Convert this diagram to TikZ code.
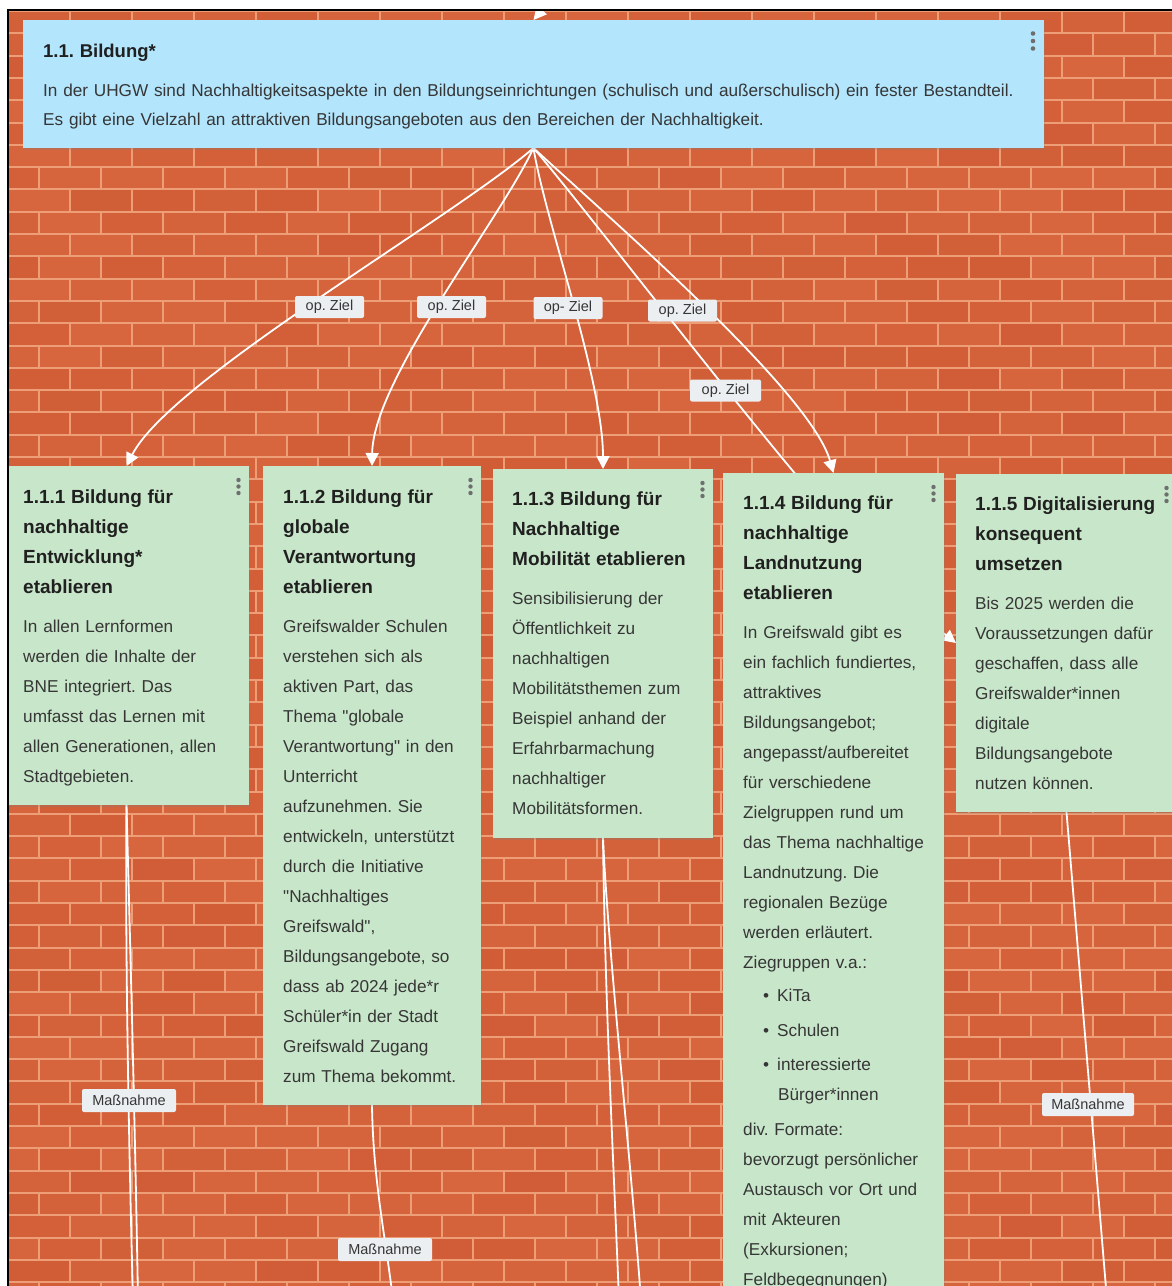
\documentclass[tikz,border=0pt]{standalone}
\usepackage{fontspec}
\setmainfont{Liberation Sans}
\usetikzlibrary{arrows.meta,shadows,calc}
\setlength{\parindent}{0pt}
\frenchspacing
\definecolor{brickA}{HTML}{DB6A42}
\definecolor{brickB}{HTML}{CA5630}
\definecolor{mortar}{HTML}{EE9E76}
\definecolor{topblue}{HTML}{B3E5FC}
\definecolor{cardgreen}{HTML}{C8E6C9}
\definecolor{labelgray}{HTML}{ECEFF1}
\definecolor{inktitle}{HTML}{202020}
\definecolor{inkbody}{HTML}{363636}
\definecolor{dotgray}{HTML}{6E6E6E}
\pgfdeclarelayer{bg}
\pgfdeclarelayer{wires}
\pgfsetlayers{bg,wires,main}
\newcommand\cardtitle[1]{{\fontsize{19}{30}\selectfont\bfseries\strut\color{inktitle}#1\par}\vspace{9pt}}
\newcommand\menudots[1]{\foreach \dy in {14,20.5,27}{\fill[dotgray] ($(#1.north east)+(-10.5,\dy)$) circle (2.2pt);}}
\newcommand\qq{\textquotedbl}
\tikzset{
  card/.style={fill=cardgreen, draw=none, anchor=north west, inner sep=0pt, outer sep=0pt,
    drop shadow={opacity=0.25, shadow xshift=0.8pt, shadow yshift=-1.6pt}},
  topcard/.style={card, fill=topblue},
  cardtext/.style={anchor=north west, inner sep=0pt, text width=#1, align=left, text=inkbody,
    font=\fontsize{17.2}{30}\selectfont},
  lbl/.style={fill=labelgray, rounded corners=2pt, inner sep=0pt, minimum height=22pt,
    text=inkbody, font=\fontsize{14.5}{16}\selectfont},
  wire/.style={draw=white, line width=1.8pt},
  tip/.style={-{Triangle[length=13pt,width=13pt]}}
}
\begin{document}
\begin{tikzpicture}[x=1pt,y=-1pt]
\useasboundingbox (0,0) rectangle (1172,1286);
% brick wall
\begin{pgfonlayer}{bg}
\fill[white] (0,0) rectangle (1172,1286);
\fill[mortar] (8,11) rectangle (1172,1286);
\pgfmathsetseed{42}
\foreach \r in {0,...,57}{
  \pgfmathsetmacro\yy{11+\r*22.3}
  \pgfmathsetmacro\off{mod(\r,2)*31}
  \foreach \c in {-1,...,19}{
    \pgfmathsetmacro\xx{\c*62+\off+8}
    \pgfmathsetmacro\sh{int(35+rnd*45)}
    \fill[brickA!\sh!brickB] (\xx+1,\yy+1) rectangle (\xx+61,\yy+21.3);
  }
}
\end{pgfonlayer}

% top card
\node[topcard, minimum width=1021pt, minimum height=128pt] (top) at (23,20) {};
\node[anchor=north west, inner sep=0pt, text width=1015pt, align=left, text=inkbody,
  font=\fontsize{17.2}{29}\selectfont] (toptext) at ($(top.north west)+(20,16.5)$)
  {{\fontsize{18.5}{29}\selectfont\bfseries\strut\color{inktitle}1.1. Bildung*\par}\vspace{10pt}
   In der UHGW sind Nachhaltigkeitsaspekte in den Bildungseinrichtungen (schulisch und außerschulisch) ein fester Bestandteil.\\
   Es gibt eine Vielzahl an attraktiven Bildungsangeboten aus den Bereichen der Nachhaltigkeit.};
\foreach \dy in {13.5,21,28.5}{\fill[dotgray] ($(top.north east)+(-11,\dy)$) circle (2.3pt);}

% cards
\node[card, minimum width=245pt, minimum height=339pt] (b1) at (4,466) {};
\node[card, minimum width=218pt, minimum height=639pt] (b2) at (263,466) {};
\node[card, minimum width=220pt, minimum height=369pt] (b3) at (493,469) {};
\node[card, minimum width=221pt, minimum height=900pt] (b4) at (723,473) {};
\node[card, minimum width=221pt, minimum height=338pt] (b5) at (956,474) {};

\node[cardtext=222pt] (t1) at ($(b1.north west)+(19,16)$) {\cardtitle{1.1.1 Bildung für\\nachhaltige\\Entwicklung*\\etablieren}
In allen Lernformen\\werden die Inhalte der\\BNE integriert. Das\\umfasst das Lernen mit\\allen Generationen, allen\\Stadtgebieten.};

\node[cardtext=198pt] (t2) at ($(b2.north west)+(20,16)$) {\cardtitle{1.1.2 Bildung für\\globale\\Verantwortung\\etablieren}
Greifswalder Schulen\\verstehen sich als\\aktiven Part, das\\Thema \qq globale\\Verantwortung\qq\ in den\\Unterricht\\aufzunehmen. Sie\\entwickeln, unterstützt\\durch die Initiative\\\qq Nachhaltiges\\Greifswald\qq,\\Bildungsangebote, so\\dass ab 2024 jede*r\\Schüler*in der Stadt\\Greifswald Zugang\\zum Thema bekommt.};

\node[cardtext=200pt] (t3) at ($(b3.north west)+(19,15)$) {\cardtitle{1.1.3 Bildung für\\Nachhaltige\\Mobilität etablieren}
Sensibilisierung der\\Öffentlichkeit zu\\nachhaltigen\\Mobilitätsthemen zum\\Beispiel anhand der\\Erfahrbarmachung\\nachhaltiger\\Mobilitätsformen.};

\node[cardtext=200pt] (t4) at ($(b4.north west)+(20,15)$) {\cardtitle{1.1.4 Bildung für\\nachhaltige\\Landnutzung\\etablieren}
In Greifswald gibt es\\ein fachlich fundiertes,\\attraktives\\Bildungsangebot;\\angepasst/aufbereitet\\für verschiedene\\Zielgruppen rund um\\das Thema nachhaltige\\Landnutzung. Die\\regionalen Bezüge\\werden erläutert.\\Ziegruppen v.a.:\\[3pt]
\hspace*{20pt}•\hspace{8pt}KiTa\\[5pt]
\hspace*{20pt}•\hspace{8pt}Schulen\\[4pt]
\hspace*{20pt}•\hspace{8pt}interessierte\\
\hspace*{35pt}Bürger*innen\\[5pt]
div. Formate:\\bevorzugt persönlicher\\Austausch vor Ort und\\mit Akteuren\\(Exkursionen;\\Feldbegegnungen)};

\node[cardtext=200pt] (t5) at ($(b5.north west)+(19,15)$) {\cardtitle{1.1.5 Digitalisierung\\konsequent\\umsetzen}
Bis 2025 werden die\\Voraussetzungen dafür\\geschaffen, dass alle\\Greifswalder*innen\\digitale\\Bildungsangebote\\nutzen können.};

\menudots{b1}
\menudots{b2}
\menudots{b3}
\menudots{b4}
\menudots{b5}

% free ends of connectors
\coordinate (parent) at (600,-60);
\coordinate (e1a) at (133,1300);
\coordinate (e1b) at (138,1300);
\coordinate (e2) at (393,1300);
\coordinate (e3a) at (619,1300);
\coordinate (e3b) at (641,1300);
\coordinate (e5) at (1107,1300);

% connectors
\begin{pgfonlayer}{wires}
\draw[wire, tip] (parent) -- (top.north);
\draw[wire, tip] (top.south) .. controls (450,220) and (170,380) .. (b1.north);
\draw[wire, tip] (top.south) .. controls (500,220) and (373,380) .. (b2.north);
\draw[wire, tip] (top.south) .. controls (545,220) and (603,380) .. (b3.north);
\draw[wire, tip] (top.south) .. controls (600,210) and (810,390) .. (b4.north);
\draw[wire, tip] (top.south) .. controls (620,250) and (850,560) .. (b5.west);
\draw[wire] (b1.south) .. controls (125,950) and (129,1150) .. (e1a);
\draw[wire] (b1.south) .. controls (129,900) and (135,1120) .. (e1b);
\draw[wire] (b2.south) .. controls (373,1180) and (386,1240) .. (e2);
\draw[wire] (b3.south) .. controls (605,1000) and (613,1150) .. (e3a);
\draw[wire] (b3.south) .. controls (608,950) and (630,1150) .. (e3b);
\draw[wire] (b5.south) -- (e5);
\end{pgfonlayer}

% labels
\node[lbl, minimum width=69pt] (l1) at (329.5,307) {op. Ziel};
\node[lbl, minimum width=69pt] (l2) at (451.5,307) {op. Ziel};
\node[lbl, minimum width=69pt] (l3) at (568,308) {op- Ziel};
\node[lbl, minimum width=69pt] (l4) at (682.5,310.5) {op. Ziel};
\node[lbl, minimum width=71pt] (l5) at (725.5,390.5) {op. Ziel};
\node[lbl, minimum width=94pt, minimum height=23pt] (m1) at (129,1100.5) {Maßnahme};
\node[lbl, minimum width=94pt, minimum height=23pt] (m2) at (385,1249.5) {Maßnahme};
\node[lbl, minimum width=92pt, minimum height=23pt] (m3) at (1088,1104.5) {Maßnahme};

% white margin and frame
\fill[white] (0,0) rectangle (1172,9);
\fill[white] (0,0) rectangle (6.5,1286);
\draw[black, line width=2pt] (7.5,1286) -- (7.5,10) -- (1172,10);
\end{tikzpicture}
\end{document}
